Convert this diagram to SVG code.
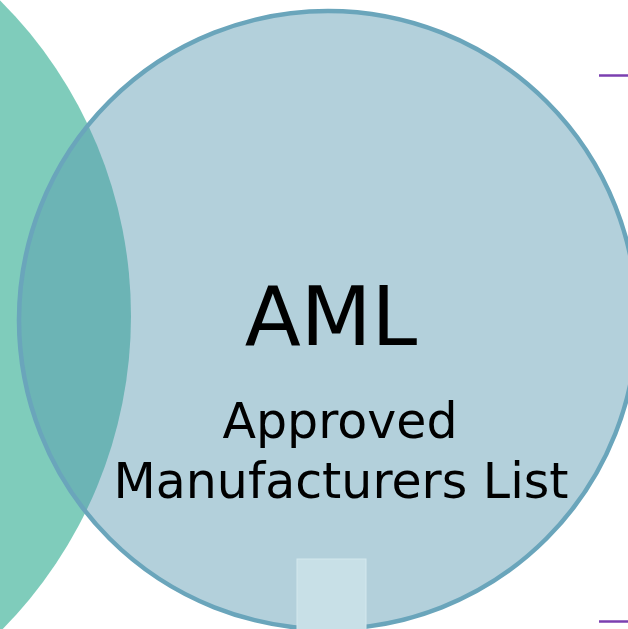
<svg xmlns="http://www.w3.org/2000/svg" width="628" height="629" viewBox="0 0 628 629">
<style>
.t{font-family:"DejaVu Sans","Verdana",sans-serif;fill:#000;text-anchor:middle}
.p{stroke:#7b3fb0;stroke-width:2.5;fill:none}
</style>
<rect width="628" height="629" fill="#fff"/>
<g id="green-circle"><ellipse cx="-315" cy="316" rx="446" ry="446" fill="#7fccbb"/></g>
<g id="aml">
<circle cx="328" cy="320" r="309" fill="#5797af" fill-opacity="0.45" stroke="#6aa5bb" stroke-width="4.5"/>
<text class="t" x="331" y="345" font-size="82">AML</text>
<text class="t" x="340" y="438" font-size="49">Approved</text>
<text class="t" x="341" y="498" font-size="49">Manufacturers List</text>
</g>
<g id="tab"><rect x="297" y="559" width="69" height="72" fill="#c8e0e7" stroke="#d4e8ee" stroke-width="1"/></g>
<g id="connectors">
<line class="p" x1="599" y1="75.5" x2="628" y2="75.5"/>
<line class="p" x1="599" y1="621.5" x2="628" y2="621.5"/>
</g>
</svg>
